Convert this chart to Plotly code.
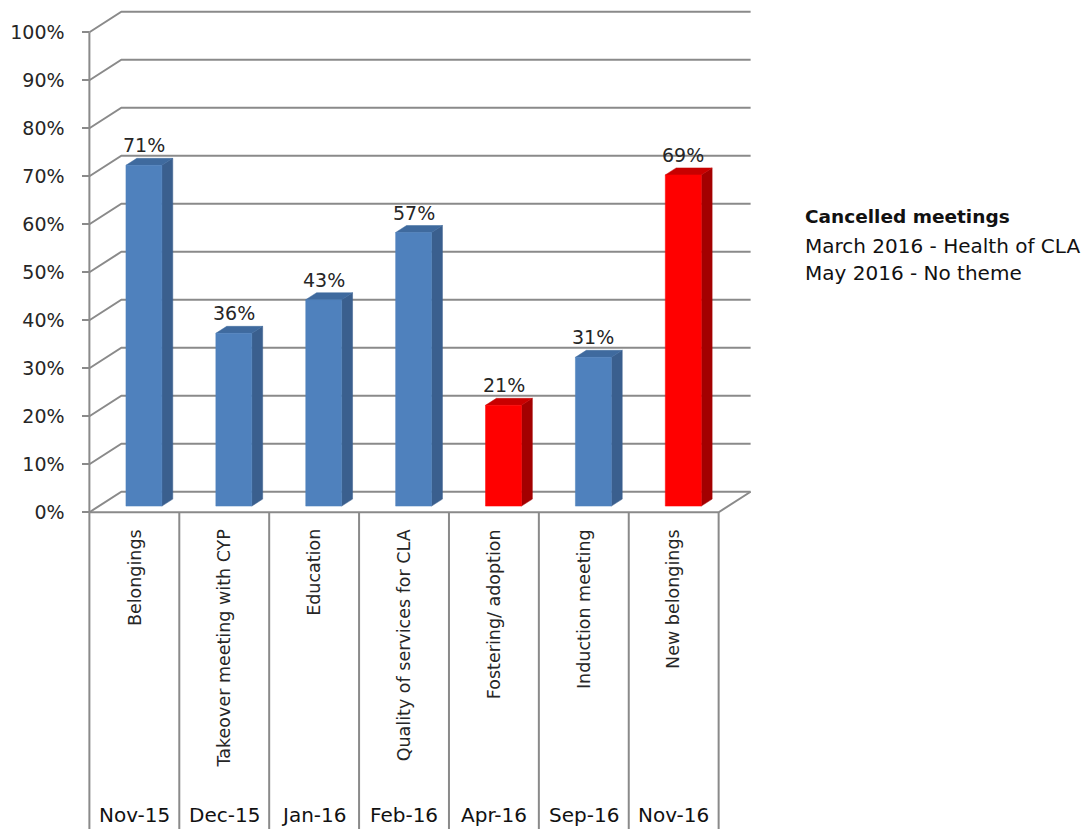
import plotly.graph_objects as go

# ---------------- data ----------------
dates = ["Nov-15", "Dec-15", "Jan-16", "Feb-16", "Apr-16", "Sep-16", "Nov-16"]
themes = ["Belongings", "Takeover meeting with CYP", "Education",
          "Quality of services for CLA", "Fostering/ adoption",
          "Induction meeting", "New belongings"]
attendance = [71, 36, 43, 57, 21, 31, 69]
highlighted = [False, False, False, False, True, False, True]
y_ticks = list(range(0, 101, 10))
note_title = "Cancelled meetings"
note_lines = ["March 2016 - Health of CLA", "May 2016 - No theme"]

# ---------------- geometry / style ----------------
W, H = 1091, 829
PX_CAT = 90.0      # px per category
PX_PCT = 4.8       # px per percent
X0_PX = 89.0       # front y-axis pixel x
Y0_PX = 512.5      # 0% pixel y (front)
DX = 32.0 / PX_CAT     # depth offset in x units
DY = 20.5 / PX_PCT     # depth offset in y units
BAR_D0, BAR_D1 = 0.3, 0.64
BAR_HALF = 0.2

FONT = "DejaVu Sans, Verdana, sans-serif"
TXT = "#262626"
GRID = "#8a8a8a"
BLUE = ("#4F81BD", "#3A5F8E", "#3F6A9E")   # front, side, top
RED = ("#FF0000", "#A30000", "#C80000")

n = len(dates)
x_lo = -0.5 - 0.06
x_hi = n - 0.5 + DX + 0.06
y_lo = -1.2
y_hi = 100 + DY + 1.2
ml = X0_PX - (-0.5 - x_lo) * PX_CAT
plot_w = (x_hi - x_lo) * PX_CAT
mr = W - ml - plot_w
plot_h = (y_hi - y_lo) * PX_PCT
mb = H - (Y0_PX + (0 - y_lo) * PX_PCT)
mt = H - mb - plot_h

fig = go.Figure()

# back wall + side wall gridlines
gx, gy = [], []
for v in y_ticks:
    gx += [-0.5, -0.5 + DX, n - 0.5 + DX, None]
    gy += [v, v + DY, v + DY, None]
fig.add_trace(go.Scatter(x=gx, y=gy, mode="lines",
                         line=dict(color=GRID, width=2), hoverinfo="skip"))
# floor front edge + right edge
fig.add_trace(go.Scatter(x=[-0.5, n - 0.5, n - 0.5 + DX], y=[0, 0, DY], mode="lines",
                         line=dict(color=GRID, width=2), hoverinfo="skip"))
# front value axis line
fig.add_trace(go.Scatter(x=[-0.5, -0.5], y=[0, 100], mode="lines",
                         line=dict(color=GRID, width=2), hoverinfo="skip"))

# 3D bars
for i, (v, hl) in enumerate(zip(attendance, highlighted)):
    front, side, top = RED if hl else BLUE
    xl = i + BAR_D0 * DX - BAR_HALF
    xr = i + BAR_D0 * DX + BAR_HALF
    y0f = BAR_D0 * DY
    y0b = BAR_D1 * DY
    ddx = (BAR_D1 - BAR_D0) * DX
    faces = [
        ([xr, xr + ddx, xr + ddx, xr, xr], [y0f, y0b, v + y0b, v + y0f, y0f], side),
        ([xl, xr, xr + ddx, xl + ddx, xl], [v + y0f, v + y0f, v + y0b, v + y0b, v + y0f], top),
        ([xl, xr, xr, xl, xl], [y0f, y0f, v + y0f, v + y0f, y0f], front),
    ]
    for fx, fy, col in faces:
        fig.add_trace(go.Scatter(x=fx, y=fy, mode="lines", fill="toself",
                                 fillcolor=col, line=dict(color=col, width=0.5),
                                 hoverinfo="skip"))
    fig.add_annotation(x=i + BAR_D0 * DX, y=v + BAR_D1 * DY, xref="x", yref="y",
                       text=f"{v}%", showarrow=False, yanchor="bottom", yshift=0,
                       font=dict(family=FONT, size=19, color=TXT))
    # category label (rotated)
    fig.add_annotation(x=i, y=0, xref="x", yref="y", text=themes[i], showarrow=False,
                       textangle=-90, yanchor="top", xanchor="center", yshift=-15,
                       font=dict(family=FONT, size=17.5, color=TXT))
    # date label
    fig.add_annotation(x=i, y=0, xref="x", yref="y", text=dates[i], showarrow=False,
                       yanchor="middle", xanchor="center", yshift=-(815 - Y0_PX),
                       font=dict(family=FONT, size=20, color="#111111"))

# table dividers below the floor
for k in range(n + 1):
    fig.add_shape(type="line", xref="x", yref="paper", x0=k - 0.5, x1=k - 0.5,
                  y0=(0 - y_lo) / (y_hi - y_lo), y1=-(mb + 5) / plot_h,
                  line=dict(color=GRID, width=2))

# note on the right
def px_to_paper(xp, yp):
    return (xp - ml) / plot_w, (H - mb - yp) / plot_h

for txt, yp, bold, size in [(note_title, 217, True, 18.5), (note_lines[0], 246, False, 20),
                            (note_lines[1], 273, False, 20)]:
    px, py = px_to_paper(803, yp)
    fig.add_annotation(x=px, y=py, xref="paper", yref="paper",
                       text=f"<b>{txt}</b>" if bold else txt, showarrow=False,
                       xanchor="left", yanchor="middle",
                       font=dict(family=FONT, size=size, color="#111111"))

fig.update_layout(
    width=W, height=H, showlegend=False,
    paper_bgcolor="white", plot_bgcolor="white",
    margin=dict(l=ml, r=mr, t=mt, b=mb, autoexpand=False),
    xaxis=dict(range=[x_lo, x_hi], visible=False, fixedrange=True),
    yaxis=dict(range=[y_lo, y_hi], anchor="free", position=(X0_PX - ml) / plot_w,
               tickvals=y_ticks, ticktext=[f"{t}%" for t in y_ticks],
               ticks="outside", ticklen=7, tickwidth=2, tickcolor=GRID,
               ticklabelstandoff=14,
               showgrid=False, zeroline=False, showline=False,
               tickfont=dict(family=FONT, size=19, color=TXT), fixedrange=True),
)

fig.write_html("out.html")
